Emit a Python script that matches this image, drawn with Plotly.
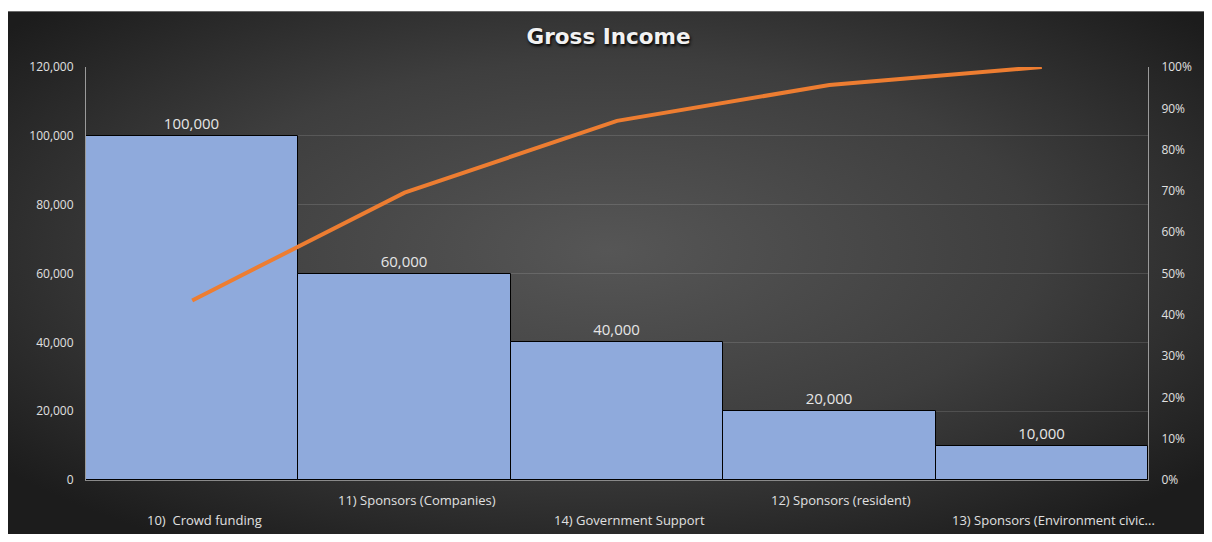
import base64
import numpy as np
import plotly.graph_objects as go

categories = ["10)  Crowd funding", "11) Sponsors (Companies)", "14) Government Support",
              "12) Sponsors (resident)", "13) Sponsors (Environment civic..."]
income = [100000, 60000, 40000, 20000, 10000]
y_ticks = [0, 20000, 40000, 60000, 80000, 100000, 120000]
pct_ticks = [0, 0.1, 0.2, 0.3, 0.4, 0.5, 0.6, 0.7, 0.8, 0.9, 1.0]

cum_pct = np.cumsum(income) / np.sum(income)

OFF = 8  # page body margin
W, H = 1212 - 2 * OFF, 542 - 2 * OFF
# target page-pixel positions of the plot area
P_L, P_R, P_T, P_B = 86, 1151, 67, 480
ML = P_L - OFF
MT = P_T - OFF
MR = W - (P_R - OFF)
MB = H - (P_B - OFF)
PW, PH = W - ML - MR, H - MT - MB

def px_x(p):  # page pixel -> paper x
    return (p - P_L) / PW

def px_y(p):  # page pixel -> paper y
    return (P_B - p) / PH

BG_L, BG_T = 7, 11
BG_W, BG_H = W + OFF - BG_L + 10, H + OFF - BG_T + 10
svg = f'''<svg xmlns="http://www.w3.org/2000/svg" width="{BG_W}" height="{BG_H}" viewBox="0 0 {BG_W} {BG_H}" preserveAspectRatio="none">
<defs><radialGradient id="g" cx="50%" cy="45%" r="65%" fx="50%" fy="45%">
<stop offset="0" stop-color="#565656"/><stop offset="0.55" stop-color="#3e3e3e"/><stop offset="1" stop-color="#1c1c1c"/>
</radialGradient></defs>
<rect x="0" y="0" width="{BG_W}" height="{BG_H}" fill="url(#g)"/>
<line x1="0" y1="0.5" x2="{BG_W}" y2="0.5" stroke="#6a6a6a" stroke-width="1"/>
</svg>'''
src = "data:image/svg+xml;base64," + base64.b64encode(svg.encode()).decode()

fig = go.Figure()
fig.add_trace(go.Bar(
    x=categories, y=income,
    marker=dict(color="#8FAADC", line=dict(color="#000000", width=1)),
    texttemplate="%{y:,}", textposition="outside",
    textfont=dict(color="#e6e6e6", size=15, family="Open Sans"),
    cliponaxis=False, width=1.0,
))
fig.add_trace(go.Scatter(
    x=categories, y=cum_pct, yaxis="y2", mode="lines",
    line=dict(color="#ED7D31", width=4),
))

annotations = []
for i, c in enumerate(categories):
    annotations.append(dict(
        x=c, xref="x", yref="paper",
        y=px_y(500 if i % 2 == 1 else 520), yanchor="middle",
        text=c, showarrow=False, xshift=12,
        font=dict(color="#e0e0e0", size=13, family="Open Sans"),
    ))

fig.update_layout(
    width=W, height=H, autosize=False,
    margin=dict(l=ML, r=MR, t=MT, b=MB),
    paper_bgcolor="white", plot_bgcolor="rgba(0,0,0,0)",
    showlegend=False, bargap=0,
    title=dict(text="Gross Income", x=px_x(610), xref="paper", xanchor="center",
               y=1 - (36 - OFF) / H, yref="container", yanchor="middle",
               font=dict(color="#f2f2f2", size=21.5, family="DejaVu Sans", weight="bold",
                         shadow="1px 2px 3px #000000")),
    images=[dict(source=src, xref="paper", yref="paper",
                 x=px_x(BG_L), y=px_y(BG_T), sizex=BG_W / PW, sizey=BG_H / PH,
                 xanchor="left", yanchor="top", sizing="stretch", layer="below")],
    xaxis=dict(range=[-0.5, len(categories) - 0.5], showticklabels=False,
               showline=True, linecolor="#8a8a8a", linewidth=1,
               ticks="", showgrid=False, zeroline=False),
    yaxis=dict(range=[0, 120000], tickvals=y_ticks, tickformat=",",
               showgrid=True, gridcolor="rgba(255,255,255,0.13)", gridwidth=1,
               zeroline=False, showline=True, linecolor="#9a9a9a", linewidth=1,
               ticks="", ticklabelstandoff=9,
               tickfont=dict(color="#e0e0e0", size=12, family="Open Sans")),
    yaxis2=dict(range=[0, 1], tickvals=pct_ticks, tickformat=".0%", overlaying="y",
                side="right", showgrid=False, zeroline=False, showline=True,
                linecolor="#9a9a9a", linewidth=1, ticks="", ticklabelstandoff=10,
                tickfont=dict(color="#e0e0e0", size=12, family="Open Sans")),
    annotations=annotations,
)

fig.write_html("out.html")
